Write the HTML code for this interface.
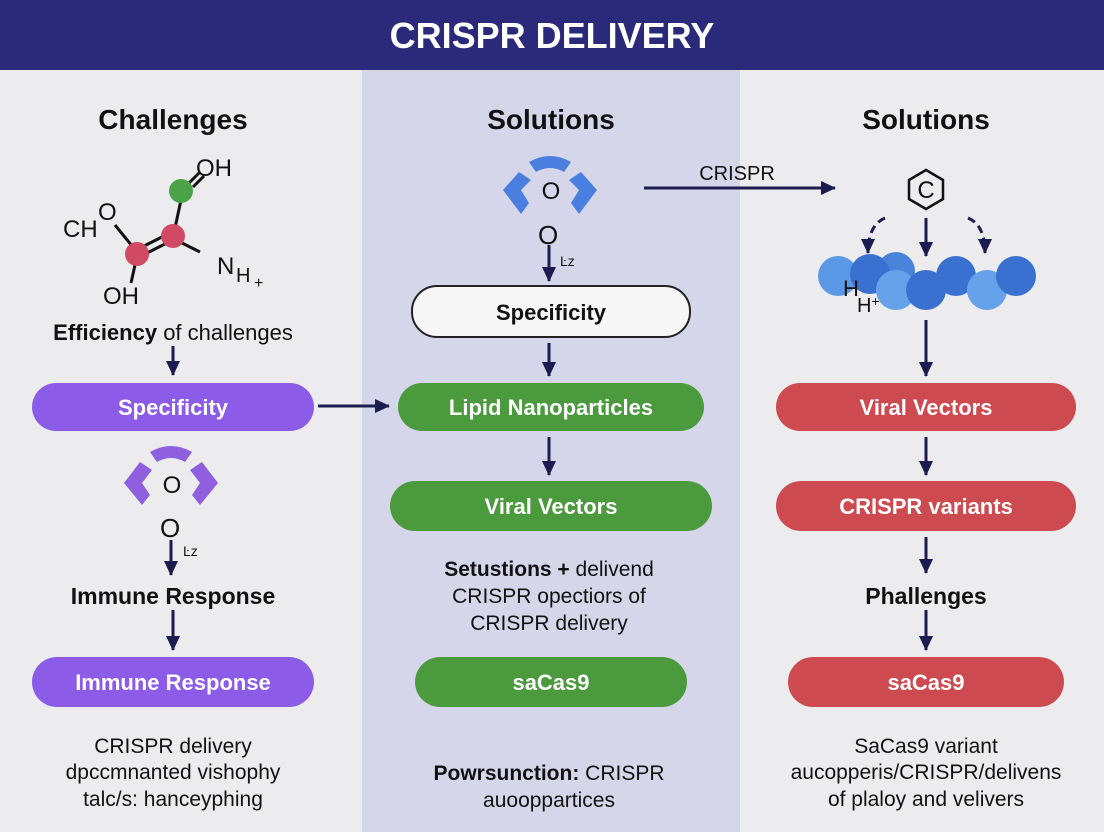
<!DOCTYPE html>
<html><head><meta charset="utf-8"><style>
html,body{margin:0;padding:0;width:1104px;height:832px;overflow:hidden;background:#ececee}
svg{display:block;font-family:"Liberation Sans",sans-serif}
</style></head><body>
<svg width="1104" height="832" viewBox="0 0 1104 832" xmlns="http://www.w3.org/2000/svg">
<defs>
<marker id="ah" markerWidth="10" markerHeight="10" refX="8" refY="5" orient="auto" markerUnits="userSpaceOnUse"><path d="M0,0 L10,5 L0,10 z" fill="#1c1c50"/></marker>
<marker id="ah2" markerWidth="16" markerHeight="16" refX="14" refY="8" orient="auto" markerUnits="userSpaceOnUse"><path d="M0,1 L15,8 L0,15 z" fill="#1c1c50"/></marker>
</defs>
<rect x="0" y="0" width="1104" height="832" fill="#ececee"/>
<rect x="362" y="70" width="378" height="762" fill="#d6d6ea"/>
<rect x="0" y="0" width="1104" height="70" fill="#2b2a7a"/>
<text x="552" y="48" text-anchor="middle" font-size="36" font-weight="bold" fill="#fff">CRISPR DELIVERY</text>

<g font-size="28" font-weight="bold" fill="#111" text-anchor="middle">
<text x="173" y="129">Challenges</text>
<text x="551" y="129">Solutions</text>
<text x="926" y="129">Solutions</text>
</g>

<!-- molecule left -->
<g stroke="#111" stroke-width="3" fill="none">
<line x1="115" y1="225" x2="137" y2="252"/>
<line x1="140" y1="248" x2="170" y2="233"/><line x1="143" y1="255" x2="173" y2="240"/>
<line x1="175" y1="228" x2="181" y2="200"/>
<line x1="176" y1="240" x2="200" y2="252"/>
<line x1="189" y1="183" x2="200" y2="172"/><line x1="193" y1="187" x2="204" y2="176"/>
<line x1="135" y1="265" x2="131" y2="283"/>
</g>
<circle cx="181" cy="191" r="12" fill="#4aa346"/>
<circle cx="173" cy="236" r="12" fill="#d04a63"/>
<circle cx="137" cy="254" r="12" fill="#d04a63"/>
<g font-size="24" fill="#111">
<text x="196" y="176">OH</text>
<text x="63" y="237">CH</text><text x="98" y="220">O</text>
<text x="217" y="274">N</text><text x="236" y="282" font-size="20">H</text><text x="254" y="288" font-size="16">+</text>
<text x="103" y="304">OH</text>
</g>
<text x="173" y="340" text-anchor="middle" font-size="22" fill="#111"><tspan font-weight="bold">Efficiency</tspan> of challenges</text>

<!-- arrows -->
<g stroke="#1c1c50" stroke-width="3" fill="none">
<line x1="173" y1="346" x2="173" y2="375" marker-end="url(#ah2)"/>
<line x1="173" y1="610" x2="173" y2="650" marker-end="url(#ah2)"/>
<line x1="318" y1="406" x2="389" y2="406" marker-end="url(#ah2)"/>
<line x1="549" y1="245" x2="549" y2="281" marker-end="url(#ah2)"/>
<line x1="549" y1="343" x2="549" y2="376" marker-end="url(#ah2)"/>
<line x1="549" y1="437" x2="549" y2="475" marker-end="url(#ah2)"/>
<line x1="644" y1="188" x2="835" y2="188" marker-end="url(#ah2)"/>
<line x1="926" y1="218" x2="926" y2="256" marker-end="url(#ah2)"/>
<line x1="926" y1="320" x2="926" y2="376" marker-end="url(#ah2)"/>
<line x1="926" y1="437" x2="926" y2="475" marker-end="url(#ah2)"/>
<line x1="926" y1="537" x2="926" y2="573" marker-end="url(#ah2)"/>
<line x1="926" y1="610" x2="926" y2="650" marker-end="url(#ah2)"/>
<line x1="171" y1="540" x2="171" y2="575" marker-end="url(#ah2)"/>
<path d="M885,218 Q868,225 868,253" stroke-dasharray="8,5" marker-end="url(#ah2)"/>
<path d="M968,218 Q985,225 985,253" stroke-dasharray="8,5" marker-end="url(#ah2)"/>
</g>

<!-- purple icon left -->
<g fill="#8f5fe0">
<path d="M150,452 Q171,440 192,452 L185,462 Q171,454 157,462 z"/>
<path d="M140,462 L124,483 L142,505 L150,495 L142,483 L152,470 z"/>
<path d="M202,462 L218,483 L200,505 L192,495 L200,483 L190,470 z"/>
</g>
<text x="172" y="493" text-anchor="middle" font-size="24" fill="#111">O</text>
<text x="160" y="537" font-size="26" fill="#111">O</text>
<text x="183" y="556" font-size="14" fill="#111">Ŀz</text>

<!-- blue icon middle -->
<g fill="#4a7fe0">
<path d="M529,162 Q550,150 571,162 L564,172 Q550,164 536,172 z"/>
<path d="M519,172 L503,190 L521,214 L529,203 L521,190 L531,180 z"/>
<path d="M581,172 L597,190 L579,214 L571,203 L579,190 L569,180 z"/>
</g>
<text x="551" y="199" text-anchor="middle" font-size="24" fill="#111">O</text>
<text x="538" y="244" font-size="26" fill="#111">O</text>
<text x="560" y="266" font-size="14" fill="#111">Ŀz</text>

<text x="737" y="180" text-anchor="middle" font-size="20" fill="#111">CRISPR</text>

<!-- hexagon C -->
<polygon points="926,170 943,180 943,199 926,209 909,199 909,180" fill="none" stroke="#111" stroke-width="2.5"/>
<text x="926" y="198" text-anchor="middle" font-size="24" fill="#111">C</text>

<!-- blue circles -->
<g>
<circle cx="838" cy="276" r="20" fill="#5b98e6"/>
<circle cx="896" cy="271" r="19" fill="#4a84da"/>
<circle cx="870" cy="274" r="20" fill="#3a70d0"/>
<circle cx="896" cy="290" r="20" fill="#66a2ea"/>
<circle cx="926" cy="290" r="20" fill="#3a70d0"/>
<circle cx="956" cy="276" r="20" fill="#3a70d0"/>
<circle cx="987" cy="290" r="20" fill="#66a2ea"/>
<circle cx="1016" cy="276" r="20" fill="#3a70d0"/>
</g>
<text x="843" y="296" font-size="22" fill="#111">H</text>
<text x="857" y="312" font-size="20" fill="#111">H<tspan font-size="14" dy="-6">+</tspan></text>

<!-- pills -->
<g font-size="22" font-weight="bold" fill="#fff" text-anchor="middle">
<rect x="32" y="383" width="282" height="48" rx="24" fill="#8c5ce8"/><text x="173" y="415">Specificity</text>
<rect x="32" y="657" width="282" height="50" rx="25" fill="#8c5ce8"/><text x="173" y="690">Immune Response</text>
<rect x="412" y="286" width="278" height="51" rx="25" fill="#f7f7f7" stroke="#222" stroke-width="2"/><text x="551" y="320" fill="#111">Specificity</text>
<rect x="398" y="383" width="306" height="48" rx="24" fill="#4b9a3e"/><text x="551" y="415">Lipid Nanoparticles</text>
<rect x="390" y="481" width="322" height="50" rx="25" fill="#4b9a3e"/><text x="551" y="514">Viral Vectors</text>
<rect x="415" y="657" width="272" height="50" rx="25" fill="#4b9a3e"/><text x="551" y="690">saCas9</text>
<rect x="776" y="383" width="300" height="48" rx="24" fill="#cc4a50"/><text x="926" y="415">Viral Vectors</text>
<rect x="776" y="481" width="300" height="50" rx="25" fill="#cc4a50"/><text x="926" y="514">CRISPR variants</text>
<rect x="788" y="657" width="276" height="50" rx="25" fill="#cc4a50"/><text x="926" y="690">saCas9</text>
</g>

<g font-size="23" font-weight="bold" fill="#111" text-anchor="middle">
<text x="173" y="604">Immune Response</text>
<text x="926" y="604">Phallenges</text>
</g>
<g font-size="21" fill="#111" text-anchor="middle">
<text x="549" y="576"><tspan font-weight="bold">Setustions +</tspan> delivend</text>
<text x="549" y="603">CRISPR opectiors of</text>
<text x="549" y="630">CRISPR delivery</text>
<text x="173" y="753">CRISPR delivery</text>
<text x="173" y="779">dpccmnanted vishophy</text>
<text x="173" y="806">talc/s: hanceyphing</text>
<text x="549" y="780"><tspan font-weight="bold">Powrsunction:</tspan> CRISPR</text>
<text x="549" y="807">auooppartices</text>
<text x="926" y="753">SaCas9 variant</text>
<text x="926" y="779">aucopperis/CRISPR/delivens</text>
<text x="926" y="806">of plaloy and velivers</text>
</g>
</svg>
</body></html>
